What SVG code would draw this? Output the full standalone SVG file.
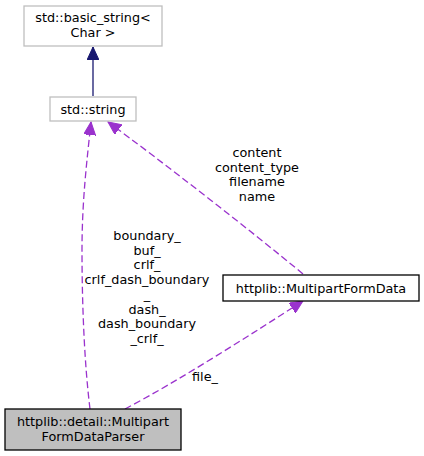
<svg xmlns="http://www.w3.org/2000/svg" width="424" height="456" viewBox="0 0 424 456">
<style>
text{font-family:"DejaVu Sans",sans-serif;font-size:12.8px;fill:#000;text-anchor:middle}
.g{fill:#fff;stroke:#bfbfbf;stroke-width:1.3}
.b{fill:#fff;stroke:#000;stroke-width:1.3}
.cur{fill:#bfbfbf;stroke:#000;stroke-width:1.3}
.d{fill:none;stroke:#9a32cd;stroke-width:1.3;stroke-dasharray:7,3.5}
.s{fill:none;stroke:#191970;stroke-width:1.3}
</style>
<defs>
<marker id="ap" markerWidth="14" markerHeight="12" refX="13" refY="6" orient="auto" markerUnits="userSpaceOnUse"><path d="M0,0 L13,6 L0,12 Z" fill="#9a32cd" stroke="#9a32cd"/></marker>
<marker id="an" markerWidth="14" markerHeight="12" refX="13" refY="6" orient="auto" markerUnits="userSpaceOnUse"><path d="M0,0 L13,6 L0,12 Z" fill="#191970" stroke="#191970"/></marker>
</defs>
<g id="edges">
<path class="s" d="M93,96 L93,47" marker-end="url(#an)"/>
<path class="d" d="M90,409 C84,360 82,300 82,250 C82,200 87,160 91,122" marker-end="url(#ap)"/>
<path class="d" d="M303,274 C250,230 160,160 108,122" marker-end="url(#ap)"/>
<path class="d" d="M125,409 C180,380 250,335 303,301" marker-end="url(#ap)"/>
<text x="257" y="157">content</text>
<text x="257" y="171.7">content_type</text>
<text x="257" y="186.4">filename</text>
<text x="257" y="201.1">name</text>
<text x="147" y="240">boundary_</text>
<text x="147" y="254.7">buf_</text>
<text x="147" y="269.4">crlf_</text>
<text x="147" y="284.1">crlf_dash_boundary</text>
<text x="147" y="298.8">_</text>
<text x="147" y="313.5">dash_</text>
<text x="147" y="328.2">dash_boundary</text>
<text x="147" y="342.9">_crlf_</text>
<text x="205" y="381">file_</text>
</g>
<g id="node_basic_string">
<rect class="g" x="24" y="6" width="138" height="40"/>
<text x="93" y="22">std::basic_string&lt;</text>
<text x="93" y="37">Char &gt;</text>
</g>
<g id="node_string">
<rect class="g" x="50" y="97" width="86" height="24"/>
<text x="93" y="113.5">std::string</text>
</g>
<g id="node_MultipartFormData">
<rect class="b" x="223" y="275" width="196" height="26"/>
<text x="321" y="292.5">httplib::MultipartFormData</text>
</g>
<g id="node_MultipartFormDataParser">
<rect class="cur" x="5" y="409" width="176" height="41"/>
<text x="93" y="426">httplib::detail::Multipart</text>
<text x="93" y="440.5">FormDataParser</text>
</g>
</svg>
